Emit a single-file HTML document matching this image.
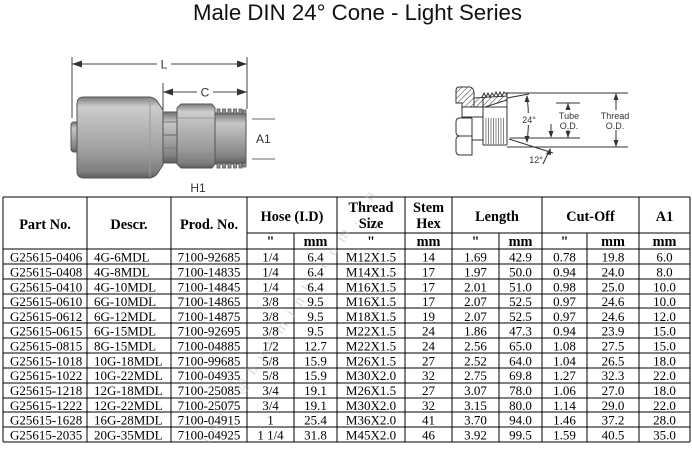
<!DOCTYPE html>
<html><head><meta charset="utf-8"><style>
html,body{margin:0;padding:0;background:#fff;}
body{width:692px;height:451px;overflow:hidden;}
svg{display:block;}
.t{font-family:"Liberation Serif","Times New Roman",serif;font-size:13px;fill:#000;}
.h{font-family:"Liberation Serif","Times New Roman",serif;font-size:14.3px;font-weight:bold;fill:#000;text-anchor:middle;}
.c{text-anchor:middle;}
.lab{font-family:"Liberation Sans",Arial,sans-serif;fill:#333;}
</style></head><body>
<svg width="692" height="451" viewBox="0 0 692 451" xmlns="http://www.w3.org/2000/svg">
<defs>
<linearGradient id="metal" x1="0" y1="0" x2="0" y2="1">
<stop offset="0" stop-color="#7c7c7c"/>
<stop offset="0.12" stop-color="#cdcdcd"/>
<stop offset="0.35" stop-color="#b8b8b8"/>
<stop offset="0.7" stop-color="#9c9c9c"/>
<stop offset="0.92" stop-color="#7e7e7e"/>
<stop offset="1" stop-color="#5e5e5e"/>
</linearGradient>
<linearGradient id="metal2" x1="0" y1="0" x2="0" y2="1">
<stop offset="0" stop-color="#727272"/>
<stop offset="0.2" stop-color="#c6c6c6"/>
<stop offset="0.5" stop-color="#a8a8a8"/>
<stop offset="0.85" stop-color="#828282"/>
<stop offset="1" stop-color="#5c5c5c"/>
</linearGradient>
<pattern id="hatch" width="4" height="4" patternUnits="userSpaceOnUse" patternTransform="rotate(45)">
<rect width="4" height="4" fill="#fff"/>
<line x1="0" y1="0" x2="0" y2="4" stroke="#333" stroke-width="1"/>
</pattern>
</defs>

<!-- Title -->
<text x="193" y="20" font-family="Liberation Sans, Arial, sans-serif" font-size="22" fill="#111" textLength="329" lengthAdjust="spacingAndGlyphs">Male DIN 24° Cone - Light Series</text>

<!-- Left drawing -->
<g stroke="#555" stroke-width="1">
<rect x="71" y="122" width="9" height="30" rx="3" fill="url(#metal2)"/>
<path d="M84,97 L150,97 Q156,98 159,104 L163,110 L163,165 L159,171 Q156,177 150,178 L84,178 Q77,178 77,171 L77,104 Q77,97 84,97 Z" fill="url(#metal)"/>
<line x1="150" y1="98" x2="150" y2="177" stroke="#9a9a9a"/>
<rect x="163" y="112" width="15" height="51" fill="url(#metal2)"/>
<line x1="163" y1="122" x2="178" y2="122" stroke="#777"/>
<line x1="163" y1="135" x2="178" y2="135" stroke="#666"/>
<line x1="163" y1="148" x2="178" y2="148" stroke="#777"/>
<polygon points="181,104 212,104 215,108 215,164 212,168 181,168 177,164 177,108" fill="url(#metal)"/>
<line x1="178" y1="118" x2="214" y2="118" stroke="#9a9a9a"/>
<line x1="178" y1="154" x2="214" y2="154" stroke="#8a8a8a"/>
<rect x="215" y="113" width="31" height="51" fill="url(#metal2)"/>
</g>
<g fill="#949494" stroke="#555" stroke-width="0.8">
<rect x="217" y="109" width="3" height="5"/><rect x="222.5" y="109" width="3" height="5"/><rect x="228" y="109" width="3" height="5"/><rect x="233.5" y="109" width="3" height="5"/><rect x="239" y="109" width="3" height="5"/><rect x="243" y="110" width="3" height="4"/>
<rect x="217" y="163" width="3" height="5"/><rect x="222.5" y="163" width="3" height="5"/><rect x="228" y="163" width="3" height="5"/><rect x="233.5" y="163" width="3" height="5"/><rect x="239" y="163" width="3" height="5"/><rect x="243" y="163" width="3" height="4"/>
</g>
<g stroke="#444" stroke-width="1" fill="none">
<line x1="72" y1="57" x2="72" y2="118"/>
<line x1="247" y1="57" x2="247" y2="109"/>
<line x1="72" y1="64" x2="247" y2="64"/>
<line x1="163" y1="83" x2="163" y2="110"/>
<line x1="163" y1="92" x2="247" y2="92"/>
<line x1="252" y1="119" x2="275" y2="119" stroke="#666"/>
<line x1="252" y1="159" x2="275" y2="159" stroke="#666"/>
</g>
<g fill="#333">
<polygon points="72,64 82,60.5 82,67.5"/>
<polygon points="247,64 237,60.5 237,67.5"/>
<polygon points="163,92 173,88.5 173,95.5"/>
<polygon points="247,92 237,88.5 237,95.5"/>
</g>
<rect x="157" y="57" width="14" height="13" fill="#fff"/>
<rect x="197" y="85" width="16" height="13" fill="#fff"/>
<text x="164" y="68.5" class="lab c" font-size="12">L</text>
<text x="205" y="96.5" class="lab c" font-size="12">C</text>
<text x="256" y="143" class="lab" font-size="12">A1</text>
<text x="198" y="192" class="lab c" font-size="12">H1</text>

<!-- Right drawing -->
<g stroke="#333" stroke-width="1">
<path d="M459,87 L470,87 Q474,88 474,93 L474,107 L462,107 L462,103 L456,103 L456,91 Q456,87 459,87 Z" fill="url(#hatch)"/>
<polygon points="474,98 507,96 507,100 485,107 474,107" fill="url(#hatch)"/>
<polyline fill="none" points="482,97 484,93 486,97 488,93 490,97 492,93 494,96 496,92 498,96 500,92 502,96 504,92 507,95"/>
<line x1="462" y1="107" x2="507" y2="107"/>
<line x1="462" y1="117" x2="483" y2="117"/>
<line x1="462" y1="103" x2="462" y2="118"/>
<line x1="483" y1="97" x2="483" y2="145"/>
<line x1="507" y1="92" x2="507" y2="145"/>
<line x1="483" y1="145" x2="507" y2="145"/>
<path d="M472,118 L460,118 Q456,118 456,122 L456,132 Q456,136 460,136 Q456,136 456,140 L456,151 Q456,155 460,155 L472,155 L472,118" fill="#fff"/>
<line x1="460" y1="136" x2="472" y2="136"/>
<line x1="472" y1="140" x2="483" y2="140"/>
</g>
<g stroke="#555" stroke-width="0.7">
<line x1="486" y1="118" x2="486" y2="144"/><line x1="488.5" y1="118" x2="488.5" y2="144"/><line x1="491" y1="118" x2="491" y2="144"/><line x1="493.5" y1="118" x2="493.5" y2="144"/><line x1="496" y1="118" x2="496" y2="144"/><line x1="498.5" y1="118" x2="498.5" y2="144"/><line x1="501" y1="118" x2="501" y2="144"/><line x1="503.5" y1="118" x2="503.5" y2="144"/>
</g>
<g stroke="#333" stroke-width="1" fill="none">
<line x1="507" y1="93" x2="628" y2="93"/>
<line x1="507" y1="147" x2="628" y2="147"/>
<line x1="556" y1="103" x2="580" y2="103"/>
<line x1="510" y1="138" x2="580" y2="138"/>
<line x1="507" y1="98" x2="529" y2="94"/>
<line x1="509" y1="139" x2="553" y2="153"/>
<path d="M527,96 Q530,119 527,142"/>
<line x1="568" y1="103" x2="568" y2="138"/>
<line x1="616" y1="93" x2="616" y2="147"/>
<line x1="551" y1="124" x2="551" y2="136"/>
<line x1="543" y1="164" x2="550" y2="149"/>
</g>
<g fill="#333">
<polygon points="527,95 524.5,102 529.5,102"/>
<polygon points="527,143 524.5,136 529.5,136"/>
<polygon points="568,103 565.5,110 570.5,110"/>
<polygon points="568,138 565.5,131 570.5,131"/>
<polygon points="616,93 613.5,100 618.5,100"/>
<polygon points="616,147 613.5,140 618.5,140"/>
<polygon points="551,138 548.5,131 553.5,131"/>
<polygon points="550.5,148 546,154 551,155"/>
</g>
<rect x="521" y="113" width="16" height="12" fill="#fff"/>
<rect x="558" y="110" width="22" height="20" fill="#fff"/>
<rect x="600" y="110" width="31" height="20" fill="#fff"/>
<g class="lab" font-size="9" fill="#222">
<text x="529" y="123" text-anchor="middle">24°</text>
<text x="569" y="119" text-anchor="middle">Tube</text>
<text x="569" y="129" text-anchor="middle">O.D.</text>
<text x="615" y="119" text-anchor="middle">Thread</text>
<text x="615" y="129" text-anchor="middle">O.D.</text>
<text x="536" y="163" text-anchor="middle">12°</text>
</g>

<!-- Table grid -->
<g stroke="#000" stroke-width="1" shape-rendering="crispEdges">
<line x1="3" y1="197" x2="690" y2="197"/>
<line x1="247" y1="233" x2="690" y2="233"/>
<line x1="3" y1="249" x2="690" y2="249"/>
<line x1="3" y1="264" x2="690" y2="264"/>
<line x1="3" y1="279" x2="690" y2="279"/>
<line x1="3" y1="294" x2="690" y2="294"/>
<line x1="3" y1="308" x2="690" y2="308"/>
<line x1="3" y1="323" x2="690" y2="323"/>
<line x1="3" y1="338" x2="690" y2="338"/>
<line x1="3" y1="353" x2="690" y2="353"/>
<line x1="3" y1="368" x2="690" y2="368"/>
<line x1="3" y1="383" x2="690" y2="383"/>
<line x1="3" y1="398" x2="690" y2="398"/>
<line x1="3" y1="412" x2="690" y2="412"/>
<line x1="3" y1="427" x2="690" y2="427"/>
<line x1="3" y1="442" x2="690" y2="442"/>
<line x1="3" y1="197" x2="3" y2="442"/>
<line x1="87" y1="197" x2="87" y2="442"/>
<line x1="171" y1="197" x2="171" y2="442"/>
<line x1="247" y1="197" x2="247" y2="442"/>
<line x1="294" y1="233" x2="294" y2="442"/>
<line x1="337" y1="197" x2="337" y2="442"/>
<line x1="405" y1="197" x2="405" y2="442"/>
<line x1="452" y1="197" x2="452" y2="442"/>
<line x1="499" y1="233" x2="499" y2="442"/>
<line x1="542" y1="197" x2="542" y2="442"/>
<line x1="587" y1="233" x2="587" y2="442"/>
<line x1="639" y1="197" x2="639" y2="442"/>
<line x1="690" y1="197" x2="690" y2="442"/>
</g>

<!-- Header -->
<text class="h" x="45" y="229">Part No.</text>
<text class="h" x="129" y="229">Descr.</text>
<text class="h" x="209" y="229">Prod. No.</text>
<text class="h" x="292" y="221">Hose (I.D)</text>
<text class="h" x="371" y="212">Thread</text>
<text class="h" x="371" y="228">Size</text>
<text class="h" x="428.5" y="212">Stem</text>
<text class="h" x="428.5" y="228">Hex</text>
<text class="h" x="497" y="221">Length</text>
<text class="h" x="590.5" y="221">Cut-Off</text>
<text class="h" x="664.5" y="221">A1</text>
<text class="h" x="270.5" y="246">"</text>
<text class="h" x="315.5" y="246">mm</text>
<text class="h" x="371" y="246">"</text>
<text class="h" x="428.5" y="246">mm</text>
<text class="h" x="475.5" y="246">"</text>
<text class="h" x="520.5" y="246">mm</text>
<text class="h" x="564.5" y="246">"</text>
<text class="h" x="613" y="246">mm</text>
<text class="h" x="664.5" y="246">mm</text>

<!-- Watermark -->
<text x="0" y="0" transform="translate(208,444) rotate(-56)" font-family="Liberation Serif, serif" font-size="16" fill="#9fb4d0" opacity="0.45" textLength="300" lengthAdjust="spacing">info@huyminh.com.vn</text>

<!-- Data -->
<g class="t">
<g transform="translate(0,261.5)">
<text x="10">G25615-0406</text><text x="94">4G-6MDL</text><text class="c" x="209">7100-92685</text><text class="c" x="270.5">1/4</text><text class="c" x="315.5">6.4</text><text class="c" x="371">M12X1.5</text><text class="c" x="428.5">14</text><text class="c" x="475.5">1.69</text><text class="c" x="520.5">42.9</text><text class="c" x="564.5">0.78</text><text class="c" x="613">19.8</text><text class="c" x="664.5">6.0</text>
</g>
<g transform="translate(0,276.5)">
<text x="10">G25615-0408</text><text x="94">4G-8MDL</text><text class="c" x="209">7100-14835</text><text class="c" x="270.5">1/4</text><text class="c" x="315.5">6.4</text><text class="c" x="371">M14X1.5</text><text class="c" x="428.5">17</text><text class="c" x="475.5">1.97</text><text class="c" x="520.5">50.0</text><text class="c" x="564.5">0.94</text><text class="c" x="613">24.0</text><text class="c" x="664.5">8.0</text>
</g>
<g transform="translate(0,291.3)">
<text x="10">G25615-0410</text><text x="94">4G-10MDL</text><text class="c" x="209">7100-14845</text><text class="c" x="270.5">1/4</text><text class="c" x="315.5">6.4</text><text class="c" x="371">M16X1.5</text><text class="c" x="428.5">17</text><text class="c" x="475.5">2.01</text><text class="c" x="520.5">51.0</text><text class="c" x="564.5">0.98</text><text class="c" x="613">25.0</text><text class="c" x="664.5">10.0</text>
</g>
<g transform="translate(0,306.1)">
<text x="10">G25615-0610</text><text x="94">6G-10MDL</text><text class="c" x="209">7100-14865</text><text class="c" x="270.5">3/8</text><text class="c" x="315.5">9.5</text><text class="c" x="371">M16X1.5</text><text class="c" x="428.5">17</text><text class="c" x="475.5">2.07</text><text class="c" x="520.5">52.5</text><text class="c" x="564.5">0.97</text><text class="c" x="613">24.6</text><text class="c" x="664.5">10.0</text>
</g>
<g transform="translate(0,320.9)">
<text x="10">G25615-0612</text><text x="94">6G-12MDL</text><text class="c" x="209">7100-14875</text><text class="c" x="270.5">3/8</text><text class="c" x="315.5">9.5</text><text class="c" x="371">M18X1.5</text><text class="c" x="428.5">19</text><text class="c" x="475.5">2.07</text><text class="c" x="520.5">52.5</text><text class="c" x="564.5">0.97</text><text class="c" x="613">24.6</text><text class="c" x="664.5">12.0</text>
</g>
<g transform="translate(0,335.7)">
<text x="10">G25615-0615</text><text x="94">6G-15MDL</text><text class="c" x="209">7100-92695</text><text class="c" x="270.5">3/8</text><text class="c" x="315.5">9.5</text><text class="c" x="371">M22X1.5</text><text class="c" x="428.5">24</text><text class="c" x="475.5">1.86</text><text class="c" x="520.5">47.3</text><text class="c" x="564.5">0.94</text><text class="c" x="613">23.9</text><text class="c" x="664.5">15.0</text>
</g>
<g transform="translate(0,350.6)">
<text x="10">G25615-0815</text><text x="94">8G-15MDL</text><text class="c" x="209">7100-04885</text><text class="c" x="270.5">1/2</text><text class="c" x="315.5">12.7</text><text class="c" x="371">M22X1.5</text><text class="c" x="428.5">24</text><text class="c" x="475.5">2.56</text><text class="c" x="520.5">65.0</text><text class="c" x="564.5">1.08</text><text class="c" x="613">27.5</text><text class="c" x="664.5">15.0</text>
</g>
<g transform="translate(0,365.4)">
<text x="10">G25615-1018</text><text x="94">10G-18MDL</text><text class="c" x="209">7100-99685</text><text class="c" x="270.5">5/8</text><text class="c" x="315.5">15.9</text><text class="c" x="371">M26X1.5</text><text class="c" x="428.5">27</text><text class="c" x="475.5">2.52</text><text class="c" x="520.5">64.0</text><text class="c" x="564.5">1.04</text><text class="c" x="613">26.5</text><text class="c" x="664.5">18.0</text>
</g>
<g transform="translate(0,380.2)">
<text x="10">G25615-1022</text><text x="94">10G-22MDL</text><text class="c" x="209">7100-04935</text><text class="c" x="270.5">5/8</text><text class="c" x="315.5">15.9</text><text class="c" x="371">M30X2.0</text><text class="c" x="428.5">32</text><text class="c" x="475.5">2.75</text><text class="c" x="520.5">69.8</text><text class="c" x="564.5">1.27</text><text class="c" x="613">32.3</text><text class="c" x="664.5">22.0</text>
</g>
<g transform="translate(0,395)">
<text x="10">G25615-1218</text><text x="94">12G-18MDL</text><text class="c" x="209">7100-25085</text><text class="c" x="270.5">3/4</text><text class="c" x="315.5">19.1</text><text class="c" x="371">M26X1.5</text><text class="c" x="428.5">27</text><text class="c" x="475.5">3.07</text><text class="c" x="520.5">78.0</text><text class="c" x="564.5">1.06</text><text class="c" x="613">27.0</text><text class="c" x="664.5">18.0</text>
</g>
<g transform="translate(0,409.8)">
<text x="10">G25615-1222</text><text x="94">12G-22MDL</text><text class="c" x="209">7100-25075</text><text class="c" x="270.5">3/4</text><text class="c" x="315.5">19.1</text><text class="c" x="371">M30X2.0</text><text class="c" x="428.5">32</text><text class="c" x="475.5">3.15</text><text class="c" x="520.5">80.0</text><text class="c" x="564.5">1.14</text><text class="c" x="613">29.0</text><text class="c" x="664.5">22.0</text>
</g>
<g transform="translate(0,424.6)">
<text x="10">G25615-1628</text><text x="94">16G-28MDL</text><text class="c" x="209">7100-04915</text><text class="c" x="270.5">1</text><text class="c" x="315.5">25.4</text><text class="c" x="371">M36X2.0</text><text class="c" x="428.5">41</text><text class="c" x="475.5">3.70</text><text class="c" x="520.5">94.0</text><text class="c" x="564.5">1.46</text><text class="c" x="613">37.2</text><text class="c" x="664.5">28.0</text>
</g>
<g transform="translate(0,439.4)">
<text x="10">G25615-2035</text><text x="94">20G-35MDL</text><text class="c" x="209">7100-04925</text><text class="c" x="270.5">1 1/4</text><text class="c" x="315.5">31.8</text><text class="c" x="371">M45X2.0</text><text class="c" x="428.5">46</text><text class="c" x="475.5">3.92</text><text class="c" x="520.5">99.5</text><text class="c" x="564.5">1.59</text><text class="c" x="613">40.5</text><text class="c" x="664.5">35.0</text>
</g>
</g>
</svg>
</body></html>
